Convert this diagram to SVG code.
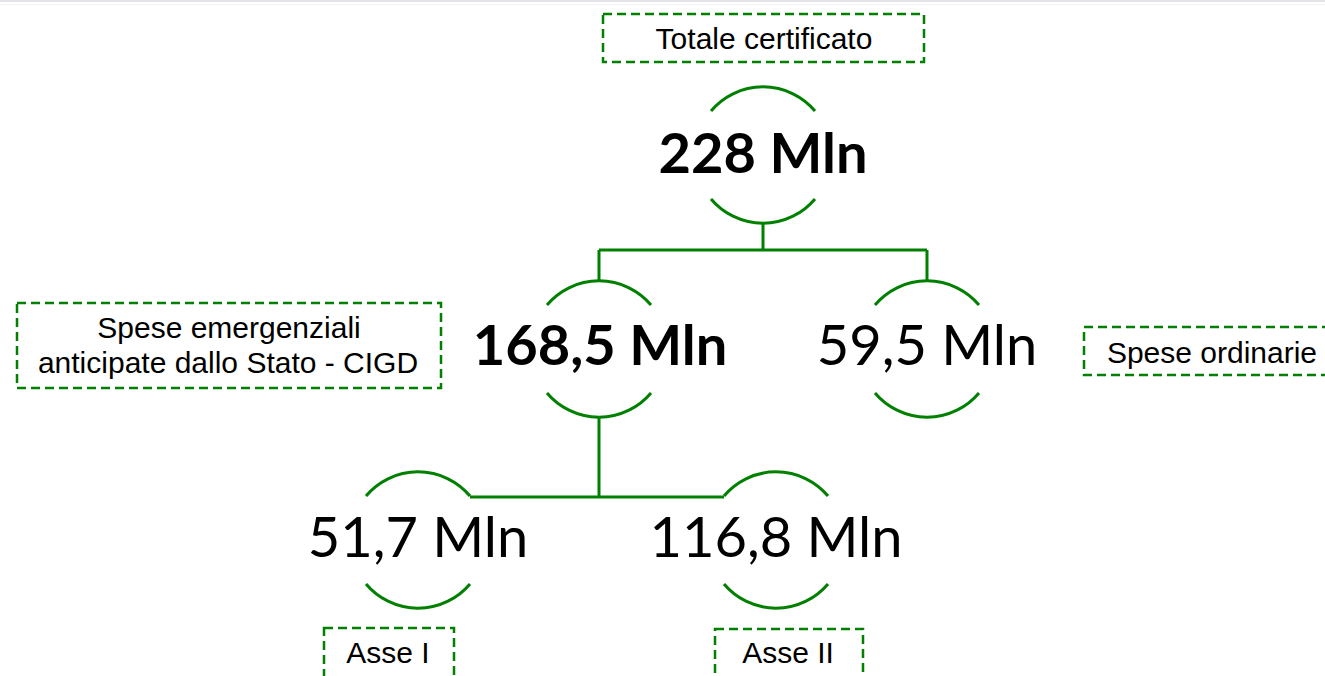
<svg xmlns="http://www.w3.org/2000/svg" width="1325" height="676" viewBox="0 0 1325 676">
<style>
.arc{fill:none;stroke:#008000;stroke-width:3}
.con{fill:none;stroke:#008000;stroke-width:3}
.box{fill:none;stroke:#008000;stroke-width:2.5;stroke-dasharray:9 5}
.num{font-family:Lato,"Open Sans",sans-serif;font-size:56px;fill:#000;text-anchor:middle}
.b{font-weight:bold}
.lab{font-family:"Liberation Sans",Arial,sans-serif;font-size:30px;fill:#000;text-anchor:middle}
</style>
<defs>
<g id="ring">
<path class="arc" d="M-52 -44 A68 68 0 0 1 52 -44"/>
<path class="arc" d="M-52 44 A68 68 0 0 0 52 44"/>
</g>
</defs>
<rect x="0" y="0" width="1325" height="676" fill="#fff"/>
<rect x="0" y="0" width="1325" height="2" fill="#e4e4e8"/>
<rect x="0" y="4" width="1325" height="1" fill="#f4f4f7"/>
<g id="connectors">
<path class="con" d="M763 223 V250 M599 250 H927 M599 250 V281 M927 250 V281"/>
<path class="con" d="M599 417 V497 M470 497 H724"/>
</g>
<g id="n228" transform="translate(763 155)">
<use href="#ring"/>
<text class="num b" x="0" y="18">228 Mln</text>
</g>
<g id="n168" transform="translate(599 349)">
<use href="#ring"/>
<text class="num b" x="1" y="16">168,5 Mln</text>
</g>
<g id="n59" transform="translate(927 349)">
<use href="#ring"/>
<text class="num" x="0" y="16">59,5 Mln</text>
</g>
<g id="n51" transform="translate(418 540)">
<use href="#ring"/>
<text class="num" x="0" y="17">51,7 Mln</text>
</g>
<g id="n116" transform="translate(776 540)">
<use href="#ring"/>
<text class="num" x="0" y="17">116,8 Mln</text>
</g>
<g id="l-totale">
<rect class="box" x="603" y="14" width="321" height="48"/>
<text class="lab" x="764" y="49">Totale certificato</text>
</g>
<g id="l-emerg">
<rect class="box" x="17" y="303" width="424" height="85"/>
<text class="lab" x="229" y="338">Spese emergenziali</text>
<text class="lab" x="228" y="373">anticipate dallo Stato - CIGD</text>
</g>
<g id="l-ordin">
<rect class="box" x="1084" y="327" width="260" height="48"/>
<text class="lab" x="1212" y="363">Spese ordinarie</text>
</g>
<g id="l-asse1">
<rect class="box" x="324" y="628" width="130" height="70"/>
<text class="lab" x="388" y="663">Asse I</text>
</g>
<g id="l-asse2">
<rect class="box" x="715" y="629" width="148" height="70"/>
<text class="lab" x="788" y="663">Asse II</text>
</g>
</svg>
